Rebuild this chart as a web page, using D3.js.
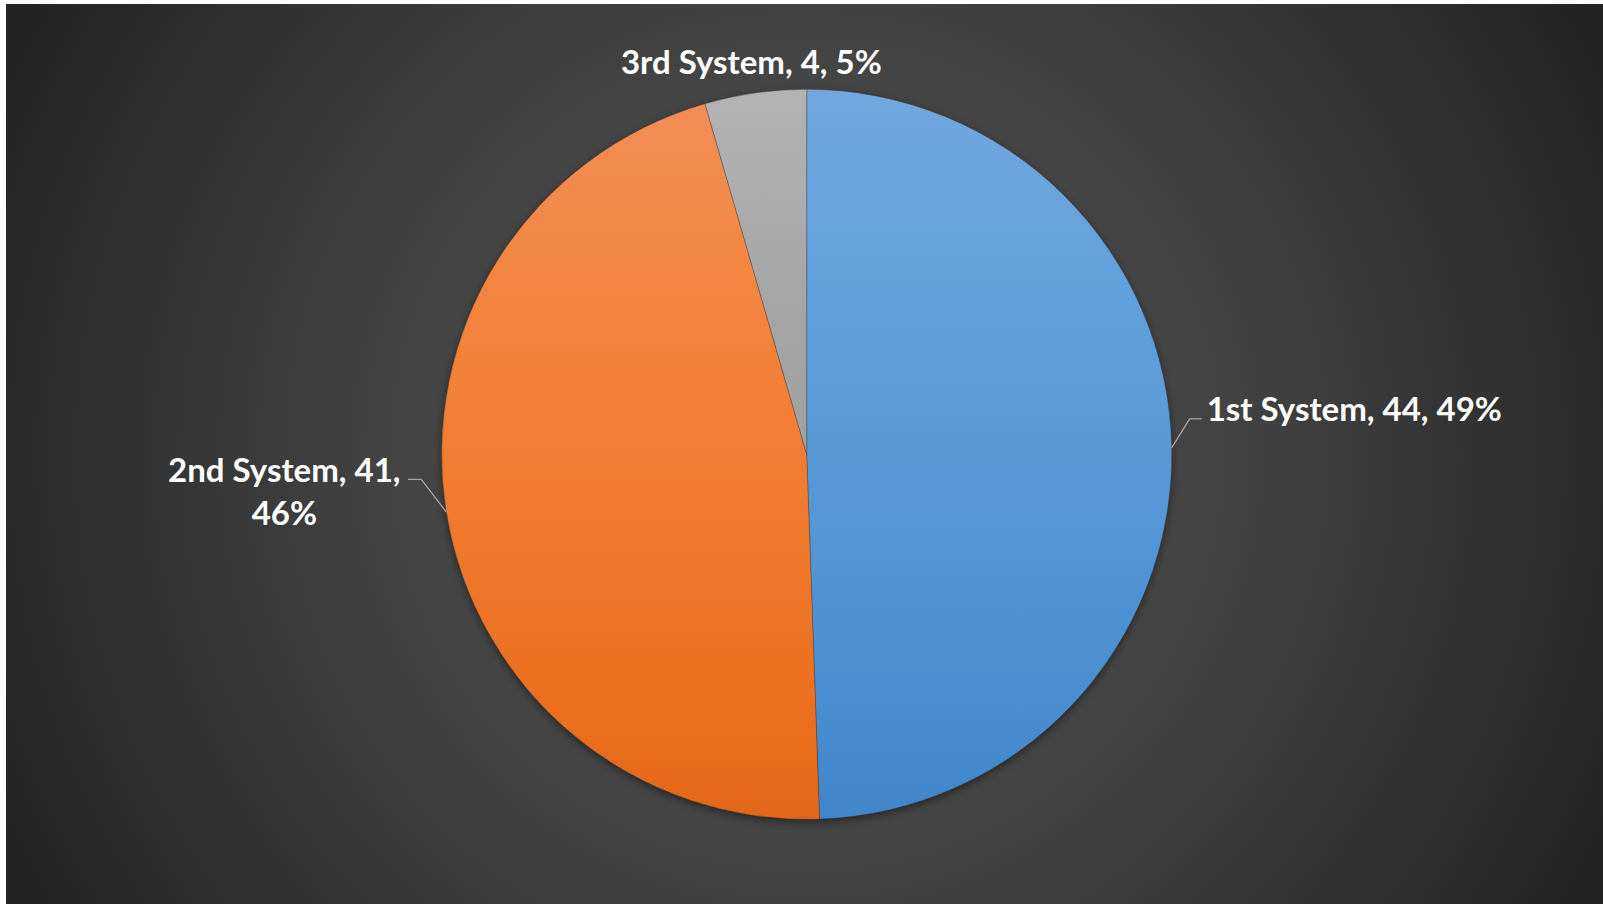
<!DOCTYPE html>
<html>
<head>
<meta charset="utf-8">
<script src="https://cdn.jsdelivr.net/npm/d3@7"></script>
<style>
  html, body { margin: 0; padding: 0; background: #fff; }
  svg { display: block; }
  .label { font-family: Lato, "Open Sans", sans-serif; font-weight: bold; fill: #fff; }
</style>
</head>
<body>
<div id="chart"></div>
<script>
// data
var categories = ["1st System", "2nd System", "3rd System"];
var values = [44, 41, 4];
var percents = [49, 46, 5];   // as printed on the chart
var gradStops = [0, 0.32, 0.86, 1];
var sliceColors = [
  ["#72a7df", "#5f9fdb", "#488dd0", "#4186c9"],
  ["#f28e58", "#f4843c", "#eb6f1e", "#e4661a"],
  ["#b3b3b3", "#a4a4a4", "#9a9a9a", "#969696"]
];

var W = 1603, H = 904;
var cx = 806.7, cy = 454.3, r = 365;

var svg = d3.select("#chart")
  .append("svg")
    .attr("width", W)
    .attr("height", H);

var defs = svg.append("defs");

var bg = defs.append("radialGradient")
    .attr("id", "bg")
    .attr("gradientUnits", "userSpaceOnUse")
    .attr("cx", cx).attr("cy", cy).attr("r", 900);
bg.append("stop").attr("offset", "0").attr("stop-color", "#505050");
bg.append("stop").attr("offset", "0.45").attr("stop-color", "#444444");
bg.append("stop").attr("offset", "1").attr("stop-color", "#232323");

// slice gradients, in the pie group's local coordinates (centre at 0,0)
categories.forEach(function(c, i) {
  var g = defs.append("linearGradient")
      .attr("id", "grad" + i)
      .attr("gradientUnits", "userSpaceOnUse")
      .attr("x1", 0).attr("y1", -r)
      .attr("x2", 0).attr("y2", r);
  gradStops.forEach(function(o, k) {
    g.append("stop").attr("offset", o).attr("stop-color", sliceColors[i][k]);
  });
});

var shadow = defs.append("filter")
    .attr("id", "shadow")
    .attr("color-interpolation-filters", "sRGB")
    .attr("x", "-10%").attr("y", "-10%")
    .attr("width", "120%").attr("height", "120%");
shadow.append("feGaussianBlur")
    .attr("stdDeviation", 4);

// background (thin white strip on left/top like the original)
svg.append("rect")
    .attr("x", 6).attr("y", 4)
    .attr("width", W - 6).attr("height", H - 4)
    .attr("fill", "url(#bg)");

var pie = d3.pie().sort(null).value(function(d) { return d; });
var arcs = pie(values);

var arc = d3.arc().innerRadius(0).outerRadius(r);

var g = svg.append("g")
    .attr("transform", "translate(" + cx + "," + cy + ")");

// soft shadow under the pie
g.append("circle")
    .attr("cx", 0).attr("cy", 3)
    .attr("r", r)
    .attr("fill", "#000")
    .attr("opacity", 0.45)
    .attr("filter", "url(#shadow)");

g.append("g")
  .selectAll("path")
  .data(arcs)
  .enter()
  .append("path")
    .attr("d", arc)
    .attr("fill", function(d, i) { return "url(#grad" + i + ")"; })
    .attr("stroke", "rgba(60,60,60,0.35)")
    .attr("stroke-width", 1);

// labels
function edge(d) {
  var a = (d.startAngle + d.endAngle) / 2;
  return [r * Math.sin(a), -r * Math.cos(a)];
}
function labelText(i) {
  return categories[i] + ", " + values[i] + ", " + percents[i] + "%";
}

var fs = 33;

// 1st System: right side, leader line from slice midpoint
var p0 = edge(arcs[0]);
g.append("polyline")
    .attr("points", [p0, [p0[0] + 18, p0[1] - 29], [p0[0] + 30, p0[1] - 29]].map(function(p) { return p.join(","); }).join(" "))
    .attr("fill", "none").attr("stroke", "#a6a6a6").attr("stroke-width", 1.3);
g.append("text")
    .attr("class", "label")
    .attr("x", p0[0] + 35).attr("y", p0[1] - 27)
    .style("font-size", fs + "px")
    .text(labelText(0));

// 2nd System: left side, two lines
var p1 = edge(arcs[1]);
g.append("polyline")
    .attr("points", [p1, [p1[0] - 25, p1[1] - 32.6], [p1[0] - 38.4, p1[1] - 32.6]].map(function(p) { return p.join(","); }).join(" "))
    .attr("fill", "none").attr("stroke", "#a6a6a6").attr("stroke-width", 1.3);
var t1 = g.append("text")
    .attr("class", "label")
    .attr("text-anchor", "middle")
    .attr("y", p1[1] - 30.5)
    .style("font-size", fs + "px");
t1.append("tspan")
    .attr("x", p1[0] - 162)
    .text(categories[1] + ", " + values[1] + ",");
t1.append("tspan")
    .attr("x", p1[0] - 162).attr("dy", 43)
    .text(percents[1] + "%");

// 3rd System: above the pie, no leader
var p2 = edge(arcs[2]);
g.append("text")
    .attr("class", "label")
    .attr("text-anchor", "middle")
    .attr("x", p2[0] - 4).attr("y", p2[1] - 19)
    .style("font-size", fs + "px")
    .text(labelText(2));
</script>
</body>
</html>
